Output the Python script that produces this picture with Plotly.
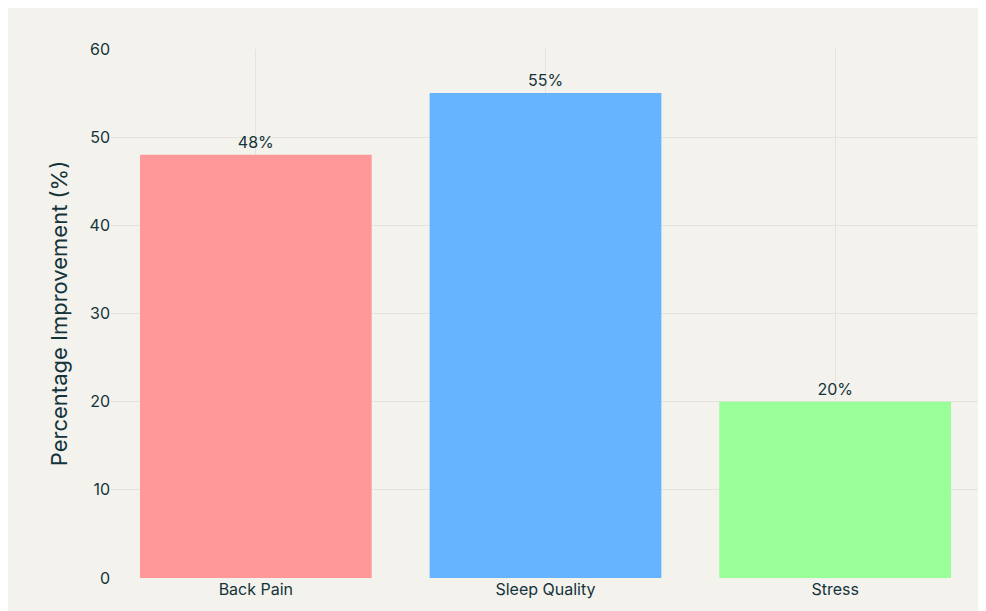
import plotly.graph_objects as go

categories = ["Back Pain", "Sleep Quality", "Stress"]
improvement = [48, 55, 20]
bar_colors = ["#FF9999", "#66B3FF", "#99FF99"]

fig = go.Figure(go.Bar(
    x=categories,
    y=improvement,
    marker=dict(color=bar_colors, line=dict(width=0)),
    text=[f"{v}%" for v in improvement],
    textposition="outside",
    textfont=dict(size=16, color="#13343B"),
    cliponaxis=False,
    width=0.8,
))

fig.update_xaxes(showgrid=True, gridcolor="#E4E3DD", tickfont=dict(size=16), zeroline=False)
fig.update_yaxes(range=[0, 60], dtick=10, showgrid=True, gridcolor="#E4E3DD",
                 tickfont=dict(size=16), zeroline=False,
                 title=dict(text="Percentage Improvement (%)", font=dict(size=22)))
fig.update_layout(
    width=986, height=611,
    paper_bgcolor="#F3F2EC", plot_bgcolor="#F3F2EC",
    font=dict(family="Inter, Roboto, sans-serif", color="#13343B"),
    margin=dict(l=103, r=14, t=41, b=41),
    showlegend=False,
)

fig.write_html("out.html")
